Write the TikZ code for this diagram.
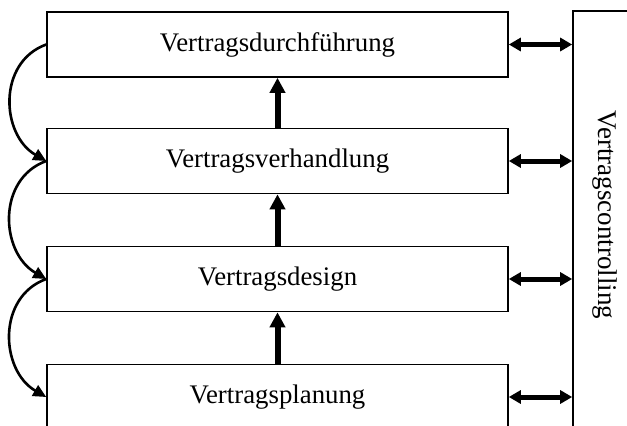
\documentclass[tikz,border=0pt]{standalone}
\usepackage{fontspec}
\setmainfont{Liberation Serif}
\usetikzlibrary{arrows.meta}
\begin{document}
\begin{tikzpicture}[x=1pt,y=-1pt,
  box/.style={draw=black,line width=1.6pt,minimum width=461pt,minimum height=65pt,inner sep=0pt,
    font=\fontsize{26.8}{30}\selectfont},
  lbl/.style={font=\fontsize{27}{30}\selectfont,inner sep=0pt},
  flowarrow/.style={line width=6pt,-{Triangle[length=15pt,width=15pt]}},
  ctrlarrow/.style={line width=5pt,{Triangle[length=12pt,width=13pt]}-{Triangle[length=12pt,width=13pt]}},
  loop/.style={line width=2.6pt,-{Triangle[length=13pt,width=12pt]},looseness=1.15}]
\useasboundingbox (0,0) rectangle (627,426);
\clip (0,0) rectangle (627,426);
\fill[white] (0,0) rectangle (627,426);
\node[box] (b1) at (277.5,44.5) {Vertragsdurchführung};
\node[box] (b2) at (277.5,161) {Vertragsverhandlung};
\node[box] (b3) at (277.5,279) {Vertragsdesign};
\node[box] (b4) at (277.5,397) {Vertragsplanung};
\node[draw=black,line width=1.6pt,minimum width=77pt,minimum height=439pt,inner sep=0pt] (ctrl) at (611.5,230.5) {};
\node[lbl,rotate=-90] (ctrltext) at (605,215) {Vertragscontrolling};
\draw[flowarrow] (b2.north) -- (b1.south);
\draw[flowarrow] (b3.north) -- (b2.south);
\draw[flowarrow] (b4.north) -- (b3.south);
\foreach \b in {b1,b2,b3,b4}{
  \draw[ctrlarrow] (\b.east) -- (ctrl.west |- \b.east);
}
\draw[loop] (b1.west) to[out=200,in=150] (b2.west);
\draw[loop] (b2.west) to[out=200,in=150] (b3.west);
\draw[loop] (b3.west) to[out=200,in=150] (b4.west);
\end{tikzpicture}
\end{document}
